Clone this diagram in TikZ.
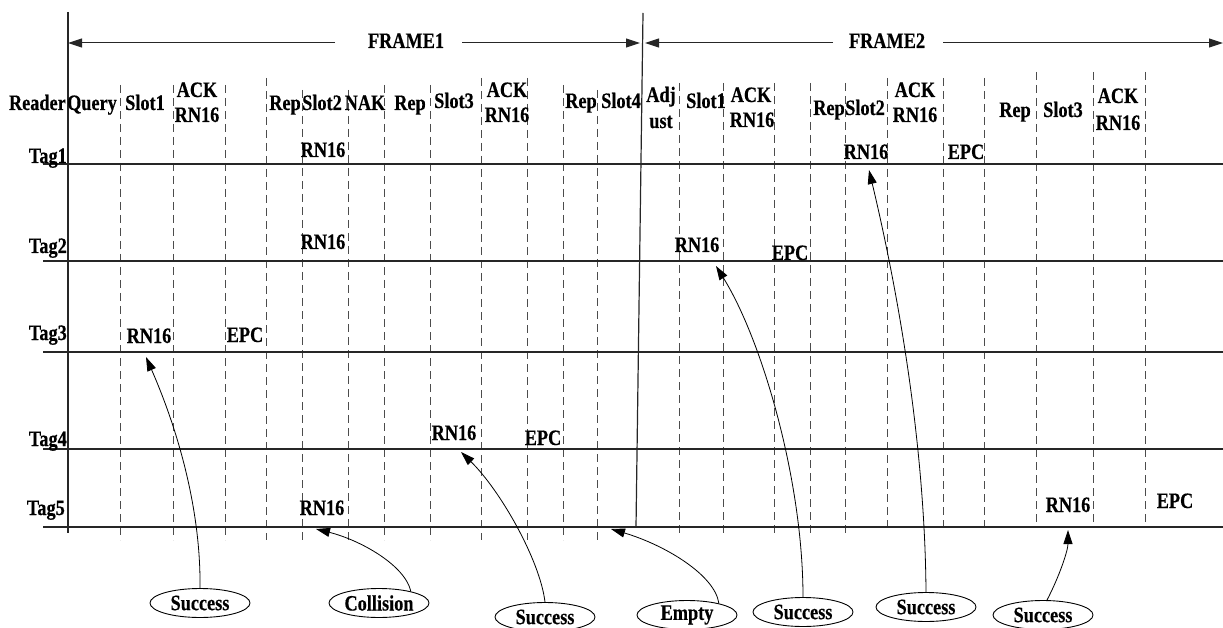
\documentclass[tikz,border=0pt]{standalone}
\usepackage{fontspec}
\newfontfamily\tfont[FakeStretch=0.83,FakeBold=0.4]{Liberation Serif}
\usetikzlibrary{arrows.meta,shapes.geometric}
\tikzset{
  lbl/.style={font=\tfont\bfseries\fontsize{22}{22}\selectfont, inner sep=0pt, anchor=base},
  tlbl/.style={lbl, anchor=base east},
  grid/.style={draw=black!70, line width=1pt, dash pattern=on 8pt off 5pt},
  solid line/.style={draw=black!85, line width=1.2pt},
  farr/.style={draw=black!85, line width=1pt, -{Triangle[length=14pt,width=9pt]}},
  carr/.style={draw=black, line width=0.8pt, -{Triangle[length=14pt,width=9pt]}},
  res/.style={ellipse, draw=black, line width=0.9pt, minimum width=100pt, minimum height=29pt, inner sep=0pt, font=\tfont\bfseries\fontsize{22}{22}\selectfont}
}
\begin{document}
\begin{tikzpicture}[x=1pt,y=-1pt]
\useasboundingbox (0,0) rectangle (1223,628);
% dashed slot lines
\foreach \x/\t/\b in {120/85/540,173/85/540,225/85/540,266/78/540,302/90/540,348/90/540,384/85/540,430/85/540,481/78/540,527/78/540,563/85/540,597/90/540,679/83/533,723/83/533,774/83/533,810/83/533,845/83/533,887/78/528,943/78/528,984/78/528,1036/72/522,1093/72/522,1145/72/522}
  \draw[grid] (\x,\t) -- (\x,\b);
% tag lines
\foreach \y in {164,261,352,449,527}
  \draw[solid line] (43,\y) -- (1223,\y);
% main verticals
\coordinate (v1t) at (68,12);
\coordinate (v1b) at (68,533);
\coordinate (v2t) at (643,13);
\coordinate (v2b) at (636,527);
\draw[solid line] (v1t) -- (v1b);
\draw[solid line] (v2t) -- (v2b);
% frame arrows
\node[lbl] (fr1) at (406,48) {FRAME1};
\node[lbl] (fr2) at (887,48) {FRAME2};
\coordinate (f1a) at (68,43);
\coordinate (f1b) at (335,43);
\coordinate (f1c) at (462,43);
\coordinate (f1d) at (640,43);
\coordinate (f2a) at (645,43);
\coordinate (f2b) at (833,43);
\coordinate (f2c) at (943,43);
\coordinate (f2d) at (1223,43);
\draw[farr] (f1b) -- (f1a);
\draw[farr] (f1c) -- (f1d);
\draw[farr] (f2b) -- (f2a);
\draw[farr] (f2c) -- (f2d);
% reader row
\node[tlbl] (reader) at (66,110) {Reader};
\node[lbl] (query) at (92,110) {Query};
\node[lbl] (s1) at (145,110) {Slot1};
\node[lbl] (ack1) at (197,97) {ACK};
\node[lbl] (ackr1) at (197,122) {RN16};
\node[lbl] (rep1) at (285,110) {Rep};
\node[lbl] (s2) at (322,110) {Slot2};
\node[lbl] (nak) at (365,110) {NAK};
\node[lbl] (rep2) at (410,110) {Rep};
\node[lbl] (s3) at (454,108) {Slot3};
\node[lbl] (ack2) at (507,97) {ACK};
\node[lbl] (ackr2) at (507,122) {RN16};
\node[lbl] (rep3) at (581,108) {Rep};
\node[lbl] (s4) at (621,108) {Slot4};
\node[lbl] (adj) at (661,102) {Adj};
\node[lbl] (ust) at (661,128) {ust};
\node[lbl] (fs1) at (706,108) {Slot1};
\node[lbl] (ack3) at (751,102) {ACK};
\node[lbl] (ackr3) at (752,127) {RN16};
\node[lbl] (rep4) at (829,115) {Rep};
\node[lbl] (fs2) at (865,115) {Slot2};
\node[lbl] (ack4) at (915,97) {ACK};
\node[lbl] (ackr4) at (915,122) {RN16};
\node[lbl] (rep5) at (1015,117) {Rep};
\node[lbl] (fs3) at (1063,117) {Slot3};
\node[lbl] (ack5) at (1118,103) {ACK};
\node[lbl] (ackr5) at (1118,130) {RN16};
% tag rows
\node[tlbl] (tag1) at (67,163) {Tag1};
\node[lbl] (t1a) at (323,157) {RN16};
\node[lbl] (t1b) at (866,159) {RN16};
\node[lbl] (t1c) at (966,159) {EPC};
\node[tlbl] (tag2) at (67,253) {Tag2};
\node[lbl] (t2a) at (323,249) {RN16};
\node[lbl] (t2b) at (697,252) {RN16};
\node[lbl] (t2c) at (790,260) {EPC};
\node[tlbl] (tag3) at (67,340) {Tag3};
\node[lbl] (t3a) at (149,343) {RN16};
\node[lbl] (t3b) at (245,342) {EPC};
\node[tlbl] (tag4) at (67,446) {Tag4};
\node[lbl] (t4a) at (454,440) {RN16};
\node[lbl] (t4b) at (543,445) {EPC};
\node[tlbl] (tag5) at (65,515) {Tag5};
\node[lbl] (t5a) at (322,515) {RN16};
\node[lbl] (t5b) at (1068,512) {RN16};
\node[lbl] (t5c) at (1175,508) {EPC};
% result ellipses
\node[res] (e1) at (200,603) {Success};
\node[res] (e2) at (379,603) {Collision};
\node[res] (e3) at (545,617) {Success};
\node[res] (e4) at (687,615) {Empty};
\node[res] (e5) at (803,612) {Success};
\node[res] (e6) at (926,607) {Success};
\node[res] (e7) at (1043,615) {Success};
% arrow targets
\coordinate (p1) at (146,357);
\coordinate (p2) at (316,529);
\coordinate (p3) at (461,452);
\coordinate (p4) at (611,529);
\coordinate (p5) at (716,266);
\coordinate (p6) at (869,170);
\coordinate (p7) at (1068,530);
\draw[carr] (e1.north) .. controls (201,510) and (178,430) .. (p1);
\draw[carr] (e2.20) .. controls (405,565) and (360,540) .. (p2);
\draw[carr] (e3.north) .. controls (540,560) and (500,490) .. (p3);
\draw[carr] (e4.20) .. controls (715,575) and (665,545) .. (p4);
\draw[carr] (e5.north) .. controls (803,480) and (762,340) .. (p5);
\draw[carr] (e6.north) .. controls (925,450) and (900,300) .. (p6);
\draw[carr] (e7.75) .. controls (1060,575) and (1068,550) .. (p7);
\end{tikzpicture}
\end{document}
